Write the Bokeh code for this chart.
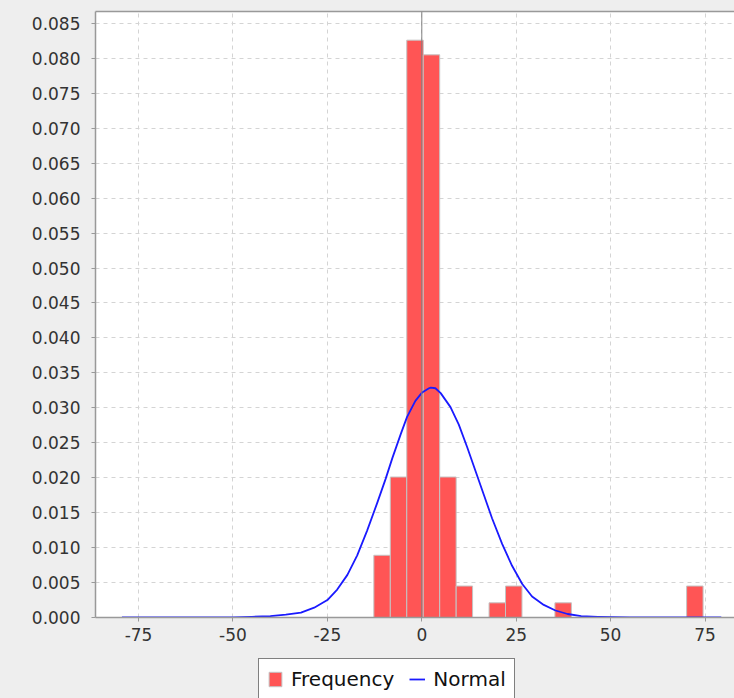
from bokeh.plotting import figure
from bokeh.models import (Range1d, FixedTicker, NumeralTickFormatter, Span, Legend,
                          LegendItem, ColumnDataSource, LinearAxis)
from bokeh.layouts import column
from bokeh.embed import file_html
from bokeh.resources import INLINE

# ---- data ----
bin_left = [-12.70, -8.34, -3.98, 0.38, 4.74, 9.10, 13.45, 17.81, 22.17, 26.53,
            30.89, 35.25, 39.61, 43.97, 48.33, 52.69, 57.05, 61.40, 65.76, 70.12]
bin_right = [-8.34, -3.98, 0.38, 4.74, 9.10, 13.45, 17.81, 22.17, 26.53, 30.89,
             35.25, 39.61, 43.97, 48.33, 52.69, 57.05, 61.40, 65.76, 70.12, 74.48]
density = [0.0089, 0.0201, 0.0826, 0.0805, 0.0201, 0.0045, 0.0, 0.0021, 0.0045, 0.0,
           0.0, 0.0021, 0.0, 0.0, 0.0, 0.0, 0.0, 0.0, 0.0, 0.0045]

normal_x = [-79.4, -60.0, -50.0, -45.0, -40.1, -36.0, -32.0, -28.5, -25.0, -22.4,
            -19.7, -17.1, -14.5, -11.8, -9.6, -7.8, -5.6, -3.9, -1.7, 0.1,
            1.9, 2.4, 3.6, 5.0, 7.6, 9.8, 12.0, 14.2, 16.4, 18.6, 21.3,
            23.9, 26.6, 29.2, 32.3, 35.4, 38.6, 42.2, 46.6, 55.0, 79.3]
normal_y = [0.0, 0.0, 0.0, 0.0001, 0.0002, 0.0004, 0.0007, 0.0014, 0.0025, 0.0040,
            0.0061, 0.0089, 0.0124, 0.0164, 0.0198, 0.0228, 0.0262, 0.0287, 0.0310, 0.0322,
            0.0328, 0.0329, 0.0328, 0.0321, 0.0301, 0.0276, 0.0244, 0.0210, 0.0176, 0.0142, 0.0105,
            0.0074, 0.0048, 0.0030, 0.0018, 0.0010, 0.0005, 0.0002, 0.0001, 0.0, 0.0]

x_ticks = [-75, -50, -25, 0, 25, 50, 75]
y_ticks = [0.000, 0.005, 0.010, 0.015, 0.020, 0.025, 0.030, 0.035, 0.040, 0.045,
           0.050, 0.055, 0.060, 0.065, 0.070, 0.075, 0.080, 0.085]

# ---- build ----
keep = [i for i, d in enumerate(density) if d > 0]
bars_src = ColumnDataSource(dict(
    left=[bin_left[i] for i in keep],
    right=[bin_right[i] for i in keep],
    top=[density[i] for i in keep],
))
line_src = ColumnDataSource(dict(x=normal_x, y=normal_y))

BG = "#eeeeee"
FONT = "DejaVu Sans"
BAR_STYLE = dict(fill_color="#ff5555", line_color="#c4c4c4", line_width=1)
LINE_STYLE = dict(line_color="#1a1aff", line_width=1.8, line_join="round")

p = figure(width=734, height=658,
           x_range=Range1d(-86.4, 82.8), y_range=Range1d(0, 0.0867),
           output_backend="svg", toolbar_location=None,
           min_border_left=95, min_border_right=0, min_border_top=11, min_border_bottom=41,
           background_fill_color="white", border_fill_color=BG,
           outline_line_color=None)

p.quad(left="left", right="right", top="top", bottom=0, source=bars_src, **BAR_STYLE)
p.line("x", "y", source=line_src, **LINE_STYLE)

p.add_layout(Span(location=0, dimension="height", line_color="#808080", line_width=1))

for ax in (p.xaxis[0], p.yaxis[0]):
    ax.axis_line_color = "#999999"
    ax.axis_line_width = 1.5
    ax.major_tick_line_color = "#999999"
    ax.major_tick_in = 0
    ax.major_tick_out = 4
    ax.minor_tick_line_color = None
    ax.major_label_text_font = FONT
    ax.major_label_text_font_size = "17px"
    ax.major_label_text_color = "#333333"

p.xaxis[0].ticker = FixedTicker(ticks=x_ticks)
p.xaxis[0].formatter = NumeralTickFormatter(format="0")
p.yaxis[0].ticker = FixedTicker(ticks=y_ticks)
p.yaxis[0].formatter = NumeralTickFormatter(format="0.000")
p.yaxis[0].major_label_standoff = 11
p.xaxis[0].major_label_standoff = 6

top_axis = LinearAxis(ticker=FixedTicker(ticks=[]), axis_line_color="#999999",
                      axis_line_width=1.5, major_tick_line_color=None,
                      minor_tick_line_color=None)
p.add_layout(top_axis, "above")

for g in (p.xgrid[0], p.ygrid[0]):
    g.grid_line_color = "#d4d4d4"
    g.grid_line_dash = "4 4"
    g.grid_line_width = 1

# ---- legend strip (its own small figure, data kept out of view) ----
lf = figure(width=734, height=40, x_range=Range1d(1000, 1001), y_range=Range1d(1000, 1001),
            output_backend="svg", toolbar_location=None,
            x_axis_type=None, y_axis_type=None,
            min_border=0, min_border_left=0, min_border_right=0,
            min_border_top=0, min_border_bottom=0,
            background_fill_color=BG, background_fill_alpha=0,
            border_fill_color=BG, outline_line_color=None)
lf.grid.visible = False
lbars = lf.quad(left="left", right="right", top="top", bottom=0, source=bars_src, **BAR_STYLE)
lline = lf.line("x", "y", source=line_src, **LINE_STYLE)

legend = Legend(items=[LegendItem(label="Frequency", renderers=[lbars]),
                       LegendItem(label="Normal", renderers=[lline])],
                orientation="horizontal", location=(163, -2),
                border_line_color="black", border_line_width=1,
                background_fill_color="white", background_fill_alpha=1,
                label_text_font=FONT, label_text_font_size="20px",
                label_text_color="#111111",
                glyph_width=16, glyph_height=18, label_height=18,
                label_standoff=8, spacing=15, padding=8, margin=0)
lf.add_layout(legend, "center")

layout = column(p, lf, spacing=0, styles={"background-color": BG})
html = file_html(layout, INLINE)
html = html.replace("<body>", '<body style="margin:0;background-color:#eeeeee">', 1)
open("out.html", "w").write(html)
